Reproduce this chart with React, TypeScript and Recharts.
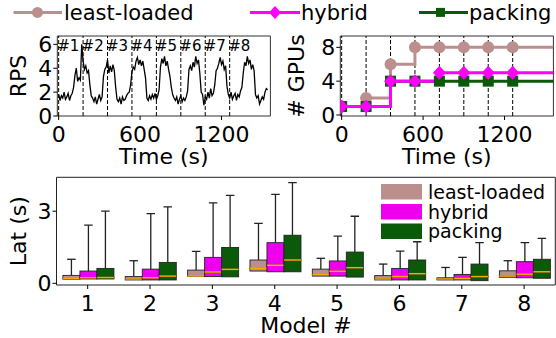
import React from "react";
import {
  LineChart,
  Line,
  XAxis,
  YAxis,
  ReferenceLine,
  ReferenceArea,
  ComposedChart,
  Bar,
} from "recharts";

const FONT = "'DejaVu Sans', sans-serif";

// RPS trace, one sample every 10 s
const RPS_STEP = 10;
const rps = [
  1.8, 1.3, 1.7, 1.5, 2.0, 1.4, 1.6, 1.9, 1.3, 1.7,
  1.9, 2.4, 3.4, 4.0, 2.9, 3.2, 3.0, 6.0, 4.6, 3.9,
  4.2, 3.6, 3.8, 2.6, 1.7, 1.5, 1.2, 1.6, 1.0, 1.4,
  1.8, 1.3, 1.6, 3.3, 3.9, 4.1, 4.7, 3.6, 4.2, 3.7,
  4.3, 3.8, 2.4, 1.4, 1.2, 1.5, 1.0, 1.6, 1.3, 1.4,
  1.7, 1.9, 2.0, 2.6, 3.7, 4.1, 3.9, 4.6, 4.9, 4.3,
  4.7, 4.2, 4.6, 3.9, 3.2, 1.5, 1.3, 1.7, 1.4, 1.8,
  1.5, 1.9, 1.4, 1.7, 2.2, 4.1, 4.8, 4.4, 5.0, 4.2,
  4.6, 3.9, 3.3, 2.4, 1.8, 1.5, 1.3, 1.6, 1.0, 1.4,
  1.7, 1.2, 1.5, 1.3, 1.6, 2.1, 3.9, 4.2, 3.8, 4.5,
  4.1, 5.0, 4.4, 4.7, 3.6, 2.0, 1.8, 0.9, 1.6, 1.4,
  2.0, 1.5, 2.3, 1.7, 1.9, 2.6, 3.8, 4.0, 4.4, 4.9,
  4.3, 4.6, 3.9, 4.2, 2.5, 1.8, 1.5, 2.0, 1.4, 1.7,
  1.9, 1.3, 1.8, 1.6, 2.1, 2.4, 3.6, 4.5, 4.2, 5.0,
  4.4, 4.7, 3.9, 4.3, 3.8, 1.8, 1.5, 1.7, 1.0, 1.3,
  1.6, 1.4, 2.0, 2.3, 2.2,
];

const segStarts = [0, 180, 360, 540, 720, 900, 1080, 1260];
const segNames = ["#1", "#2", "#3", "#4", "#5", "#6", "#7", "#8"];

// GPU allocation (step after each segment start, last entry = end of run)
const gpuTimes = [0, 180, 360, 540, 720, 900, 1080, 1260, 1560];
const gpuLeast = [1, 2, 6, 8, 8, 8, 8, 8, 8];
const gpuHybrid = [1, 1, 4, 4, 5, 5, 5, 5, 5];
const gpuPacking = [1, 1, 4, 4, 4, 4, 4, 4, 4];

// latency box stats per model
const models = ["1", "2", "3", "4", "5", "6", "7", "8"];
const llQ1 = [0.17, 0.14, 0.3, 0.51, 0.3, 0.14, 0.14, 0.25];
const llMed = [0.2, 0.18, 0.31, 0.62, 0.36, 0.18, 0.18, 0.3];
const llQ3 = [0.33, 0.28, 0.55, 0.97, 0.59, 0.32, 0.23, 0.52];
const llMax = [1.0, 0.94, 1.33, 2.49, 1.04, 0.8, 0.66, 0.94];

const hyQ1 = [0.18, 0.14, 0.28, 0.48, 0.3, 0.14, 0.14, 0.23];
const hyMed = [0.23, 0.23, 0.47, 0.75, 0.5, 0.28, 0.2, 0.38];
const hyQ3 = [0.51, 0.59, 1.08, 1.69, 0.93, 0.62, 0.37, 0.9];
const hyMax = [2.42, 2.9, 3.35, 3.7, 1.96, 1.34, 1.08, 1.69];

const pkQ1 = [0.18, 0.14, 0.27, 0.48, 0.26, 0.14, 0.11, 0.21];
const pkMed = [0.24, 0.3, 0.58, 0.97, 0.65, 0.4, 0.28, 0.48];
const pkQ3 = [0.62, 0.87, 1.49, 2.0, 1.3, 0.97, 0.8, 1.0];
const pkMax = [3.0, 3.18, 3.66, 4.19, 2.79, 1.73, 1.69, 1.87];

const C_LL = "#bc8f8f";
const C_HY = "#ff00ff";
const C_HY_BOX = "#ee00ee";
const C_PK = "#0a5a0a";

const rpsData = rps.map((v, i) => ({ t: i * RPS_STEP, v }));
const gpuData = gpuTimes.map((t, i) => ({
  t,
  ll: gpuLeast[i],
  hy: gpuHybrid[i],
  pk: gpuPacking[i],
}));

const boxSeries = [
  { key: "ll", color: C_LL, q1: llQ1, med: llMed, q3: llQ3, max: llMax },
  { key: "hy", color: C_HY_BOX, q1: hyQ1, med: hyMed, q3: hyQ3, max: hyMax },
  { key: "pk", color: C_PK, q1: pkQ1, med: pkMed, q3: pkQ3, max: pkMax },
];

const boxData = models.map((m, i) => {
  const row: any = { model: m };
  boxSeries.forEach((s) => {
    row[s.key + "_base"] = s.q1[i];
    row[s.key + "_lo"] = s.med[i] - s.q1[i];
    row[s.key + "_hi"] = s.q3[i] - s.med[i];
    row[s.key + "_wh"] = s.max[i] - s.q3[i];
  });
  return row;
});

const tickStyle = { fontSize: 22, fill: "#000", fontFamily: FONT };
const axisLabel = { fontSize: 22, fill: "#000", fontFamily: FONT };

const SegLabel = (props: any) => {
  const vb = props.viewBox || {};
  return (
    <text x={vb.x - 1.5} y={vb.y + 14.5} fontSize={15} fill="#000" fontFamily={FONT}>
      {props.text}
    </text>
  );
};

const makeDot = (kind: string, color: string) => (p: any) => {
  const { cx, cy, index } = p;
  const k = `${kind}-${index}`;
  if (index >= segStarts.length || cx == null) return <g key={k} />;
  if (kind === "circle") return <circle key={k} cx={cx} cy={cy} r={6} fill={color} />;
  if (kind === "diamond")
    return (
      <polygon
        key={k}
        points={`${cx},${cy - 7} ${cx + 6.5},${cy} ${cx},${cy + 7} ${cx - 6.5},${cy}`}
        fill={color}
      />
    );
  return <rect key={k} x={cx - 5.5} y={cy - 5.5} width={11} height={11} fill={color} />;
};

const BoxLower = (props: any) => {
  const { x, y, width, height, color } = props;
  return <rect x={x} y={y} width={width} height={Math.max(height, 0)} fill={color} stroke="#222" strokeWidth={0.9} />;
};

const BoxUpper = (props: any) => {
  const { x, y, width, height, color } = props;
  const h = Math.max(height, 0);
  return (
    <g>
      <rect x={x} y={y} width={width} height={h} fill={color} stroke="#222" strokeWidth={0.9} />
      <line x1={x} x2={x + width} y1={y + h} y2={y + h} stroke="#ffa500" strokeWidth={1.5} />
    </g>
  );
};

const Whisker = (props: any) => {
  const { x, y, width, height } = props;
  const cx = x + width / 2;
  return (
    <g stroke="#222" strokeWidth={1.3}>
      <line x1={cx} x2={cx} y1={y + height} y2={y} />
      <line x1={x + width / 4} x2={x + (3 * width) / 4} y1={y} y2={y} />
    </g>
  );
};

function RpsChart() {
  return (
    <LineChart width={280} height={175} data={rpsData} margin={{ top: 36, right: 9.6, bottom: 0, left: 0 }}>
      <XAxis
        dataKey="t"
        type="number"
        domain={[-10, 1560]}
        allowDataOverflow
        ticks={[0, 600, 1200]}
        interval={0}
        height={59}
        tickSize={4}
        tickMargin={6}
        tick={tickStyle}
        axisLine={false}
        tickLine={{ stroke: "#000" }}
        label={{ value: "Time (s)", position: "insideBottom", offset: 11.2, ...axisLabel }}
      />
      <YAxis
        type="number"
        domain={[0, 6.7]}
        allowDataOverflow
        ticks={[0, 2, 4, 6]}
        interval={0}
        width={57.3}
        tickSize={4}
        tickMargin={1}
        tick={tickStyle}
        axisLine={false}
        tickLine={{ stroke: "#000" }}
        label={{
          value: "RPS",
          angle: -90,
          position: "insideLeft",
          offset: 18.5,
          style: { textAnchor: "middle" },
          ...axisLabel,
        }}
      />
      <ReferenceArea x1={-10} x2={1560} y1={0} y2={6.7} fill="none" stroke="#333" ifOverflow="visible" />
      {segStarts.map((s, i) => (
        <ReferenceLine
          key={s}
          x={s}
          stroke="#000"
          strokeWidth={1}
          strokeDasharray="4 2"
          label={(p: any) => <SegLabel {...p} text={segNames[i]} />}
        />
      ))}
      <Line dataKey="v" type="linear" dot={false} stroke="#000" strokeWidth={1.3} isAnimationActive={false} />
    </LineChart>
  );
}

function GpuChart() {
  return (
    <LineChart width={280} height={175} data={gpuData} margin={{ top: 36, right: 6.6, bottom: 0, left: 0 }}>
      <XAxis
        dataKey="t"
        type="number"
        domain={[-10, 1560]}
        allowDataOverflow
        ticks={[0, 600, 1200]}
        interval={0}
        height={59}
        tickSize={4}
        tickMargin={6}
        tick={tickStyle}
        axisLine={false}
        tickLine={{ stroke: "#000" }}
        label={{ value: "Time (s)", position: "insideBottom", offset: 11.2, ...axisLabel }}
      />
      <YAxis
        type="number"
        domain={[-0.12, 9.34]}
        allowDataOverflow
        ticks={[0, 4, 8]}
        interval={0}
        width={60.3}
        tickSize={4}
        tickMargin={1}
        tick={tickStyle}
        axisLine={false}
        tickLine={{ stroke: "#000" }}
        label={{
          value: "# GPUs",
          angle: -90,
          position: "insideLeft",
          offset: 15.8,
          style: { textAnchor: "middle" },
          ...axisLabel,
        }}
      />
      <ReferenceArea x1={-10} x2={1560} y1={-0.12} y2={9.34} fill="none" stroke="#333" ifOverflow="visible" />
      {segStarts.map((s) => (
        <ReferenceLine key={s} x={s} stroke="#000" strokeWidth={1} strokeDasharray="4 2" />
      ))}
      <Line dataKey="ll" type="stepAfter" stroke={C_LL} strokeWidth={3} dot={makeDot("circle", C_LL)} isAnimationActive={false} />
      <Line dataKey="pk" type="stepAfter" stroke={C_PK} strokeWidth={3} dot={makeDot("square", C_PK)} isAnimationActive={false} />
      <Line dataKey="hy" type="stepAfter" stroke={C_HY} strokeWidth={3} dot={makeDot("diamond", C_HY)} isAnimationActive={false} />
    </LineChart>
  );
}

function LatencyChart() {
  return (
    <ComposedChart
      width={556}
      height={168}
      data={boxData}
      margin={{ top: 7.3, right: 0.7, bottom: 0, left: 0 }}
      barCategoryGap="10.3%"
      barGap={0}
    >
      <XAxis
        dataKey="model"
        type="category"
        height={53}
        interval={0}
        tickSize={4}
        tickMargin={6}
        tick={tickStyle}
        axisLine={false}
        tickLine={{ stroke: "#000" }}
        label={{ value: "Model #", position: "insideBottom", offset: 4.7, ...axisLabel }}
      />
      <YAxis
        type="number"
        domain={[-0.07, 4.41]}
        allowDataOverflow
        ticks={[0, 3]}
        interval={0}
        width={56.5}
        tickSize={4}
        tickMargin={1}
        tick={tickStyle}
        axisLine={false}
        tickLine={{ stroke: "#000" }}
        label={{
          value: "Lat (s)",
          angle: -90,
          position: "insideLeft",
          offset: 18.5,
          style: { textAnchor: "middle" },
          ...axisLabel,
        }}
      />
      <ReferenceArea x1="1" x2="8" y1={-0.07} y2={4.41} fill="none" stroke="#222" ifOverflow="visible" />
      {boxSeries.map((s) => [
        <Bar key={s.key + "b"} dataKey={s.key + "_base"} stackId={s.key} fill="none" isAnimationActive={false} />,
        <Bar
          key={s.key + "l"}
          dataKey={s.key + "_lo"}
          stackId={s.key}
          fill={s.color}
          shape={(p: any) => <BoxLower {...p} color={s.color} />}
          isAnimationActive={false}
        />,
        <Bar
          key={s.key + "h"}
          dataKey={s.key + "_hi"}
          stackId={s.key}
          fill={s.color}
          shape={(p: any) => <BoxUpper {...p} color={s.color} />}
          isAnimationActive={false}
        />,
        <Bar
          key={s.key + "w"}
          dataKey={s.key + "_wh"}
          stackId={s.key}
          fill="none"
          shape={(p: any) => <Whisker {...p} />}
          isAnimationActive={false}
        />,
      ])}
    </ComposedChart>
  );
}

function TopLegend() {
  const y = 12.4;
  return (
    <svg width={556} height={30} style={{ position: "absolute", left: 0, top: 0 }} fontFamily={FONT}>
      <line x1={13.5} x2={62} y1={y} y2={y} stroke={C_LL} strokeWidth={3} />
      <circle cx={37.5} cy={y} r={5.5} fill={C_LL} />
      <text x={64} y={19.5} fontSize={21} fill="#000">least-loaded</text>
      <line x1={250} x2={300} y1={y} y2={y} stroke={C_HY} strokeWidth={3} />
      <polygon points={`275,${y - 6.5} 281,${y} 275,${y + 6.5} 269,${y}`} fill={C_HY} />
      <text x={301} y={19.5} fontSize={21} fill="#000">hybrid</text>
      <line x1={419} x2={468} y1={y} y2={y} stroke={C_PK} strokeWidth={3} />
      <rect x={436} y={y - 4.5} width={9} height={9} fill={C_PK} />
      <text x={469} y={19.5} fontSize={21} fill="#000">packing</text>
    </svg>
  );
}

function BoxLegend() {
  const rows = [
    { name: "least-loaded", color: C_LL, y: 184 },
    { name: "hybrid", color: C_HY_BOX, y: 204 },
    { name: "packing", color: C_PK, y: 223.5 },
  ];
  return (
    <svg width={556} height={338} style={{ position: "absolute", left: 0, top: 0, pointerEvents: "none" }} fontFamily={FONT}>
      {rows.map((r) => (
        <g key={r.name}>
          <rect x={381} y={r.y} width={41} height={15.5} fill={r.color} />
          <text x={428} y={r.y + 14.5} fontSize={19} fill="#000">{r.name}</text>
        </g>
      ))}
    </svg>
  );
}

export default function App() {
  return (
    <div
      style={{
        position: "fixed",
        left: 0,
        top: 0,
        width: 556,
        height: 338,
        overflow: "hidden",
        background: "#fff",
        fontFamily: FONT,
      }}
    >
      <div style={{ position: "absolute", left: 0, top: 0 }}>
        <RpsChart />
      </div>
      <div style={{ position: "absolute", left: 280, top: 0 }}>
        <GpuChart />
      </div>
      <div style={{ position: "absolute", left: 0, top: 170 }}>
        <LatencyChart />
      </div>
      <TopLegend />
      <BoxLegend />
    </div>
  );
}
